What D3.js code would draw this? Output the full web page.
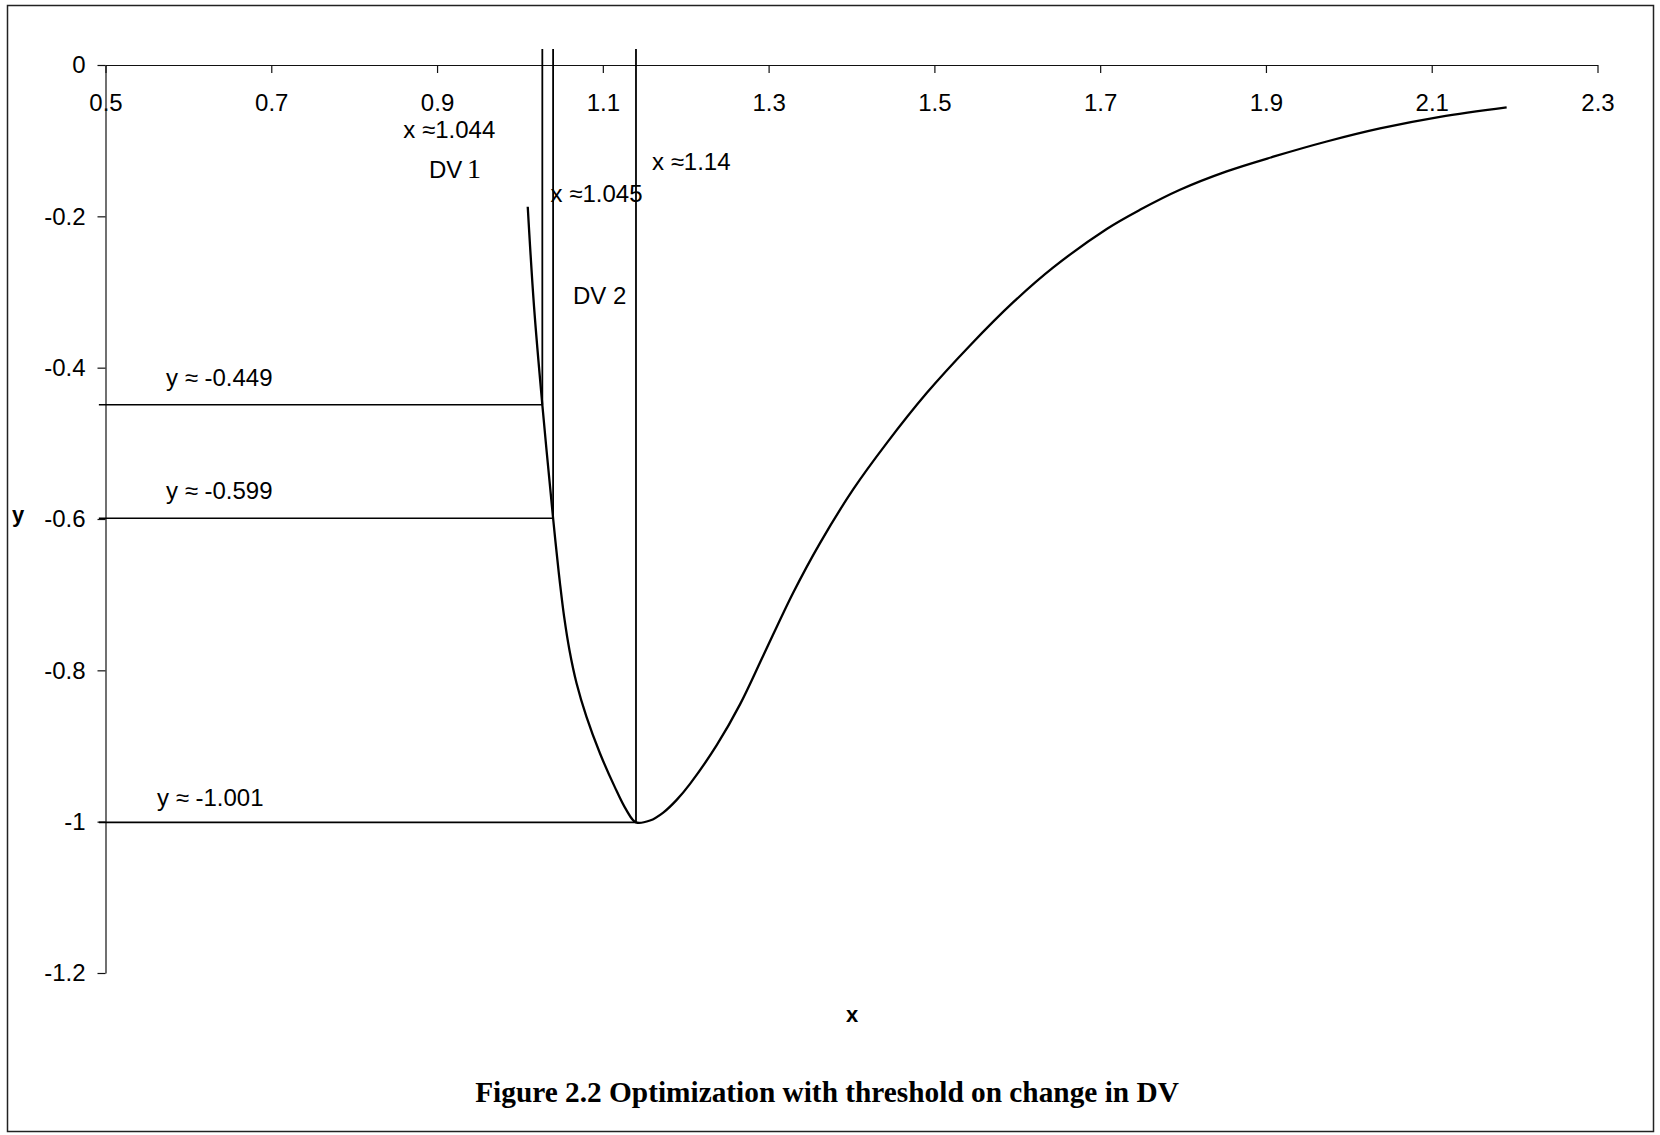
<!DOCTYPE html>
<html>
<head>
<meta charset="utf-8">
<script src="https://cdn.jsdelivr.net/npm/d3@7"></script>
<style>
  html, body { margin: 0; padding: 0; background: #fff; }
  svg { display: block; }
</style>
</head>
<body>
<svg id="chart" width="1660" height="1135"></svg>
<script>
// Axis ticks
const xTicks = [0.5, 0.7, 0.9, 1.1, 1.3, 1.5, 1.7, 1.9, 2.1, 2.3];
const yTicks = [0, -0.2, -0.4, -0.6, -0.8, -1, -1.2];

// Objective curve y(x)
const curveX = [1.0094, 1.0170, 1.027, 1.040, 1.0439, 1.0483, 1.0533, 1.0597, 1.0683, 1.0802, 1.0965, 1.1142, 1.1283, 1.14,
                1.1569, 1.1729, 1.1891, 1.2052, 1.2374, 1.2655, 1.2936, 1.3298, 1.3620, 1.4022, 1.4425, 1.4907, 1.5430,
                1.5952, 1.6435, 1.7079, 1.7480, 1.7963, 1.8526, 1.9089, 1.9733, 2.0376, 2.1100, 2.1904];
const curveY = [-0.1873, -0.3194, -0.449, -0.599, -0.6409, -0.6850, -0.7291, -0.7731, -0.8171, -0.8612, -0.9096, -0.9537, -0.9845, -1.001,
                -0.9985, -0.9880, -0.9712, -0.9500, -0.8989, -0.8450, -0.7804, -0.6971, -0.6318, -0.5606, -0.4997, -0.4336, -0.3707,
                -0.3135, -0.2675, -0.2167, -0.1914, -0.1649, -0.1406, -0.1212, -0.1011, -0.0838, -0.0685, -0.0560];

// Iterates of the optimisation: where each step stops (x) and the value reached (y)
const stepX = [1.027, 1.040, 1.14];
const stepY = [-0.449, -0.599, -1.001];
const stepXLabels = ["x \u22481.044", "x \u22481.045", "x \u22481.14"];
const stepYLabels = ["y \u2248 -0.449", "y \u2248 -0.599", "y \u2248 -1.001"];
const stepNames = ["DV", "1", "DV 2"];
const guideTop = 0.021;     // vertical guides rise slightly above the x axis
const guideLeft = 0.492;    // horizontal guides start just left of the y axis
const caption = "Figure 2.2 Optimization with threshold on change in DV";

const SANS = "Liberation Sans, Arial, sans-serif";
const SERIF = "Liberation Serif, Times New Roman, serif";

const svg = d3.select("#chart");
const W = 1660, H = 1135;

// frame
svg.append("rect")
  .attr("x", 7.5).attr("y", 5.5)
  .attr("width", W - 14).attr("height", H - 9)
  .attr("fill", "none").attr("stroke", "#222").attr("stroke-width", 1.5);

const x = d3.scaleLinear().domain([0.5, 2.3]).range([105.5, 1597.5]);
const y = d3.scaleLinear().domain([0, -1.2]).range([65, 973]);

const tickFont = 24;
const fmt = d => String(d);

// x axis along y = 0, labels beneath
const xAxis = svg.append("g")
  .attr("transform", `translate(0,${y(0)})`)
  .call(d3.axisBottom(x).tickValues(xTicks).tickFormat(fmt).tickSize(8).tickSizeOuter(0).tickPadding(21));
// y axis at x = 0.5
const yAxis = svg.append("g")
  .attr("transform", `translate(${x(0.5)},0)`)
  .call(d3.axisLeft(y).tickValues(yTicks).tickFormat(fmt).tickSize(8).tickSizeOuter(0).tickPadding(12));
[xAxis, yAxis].forEach(g => {
  g.attr("font-family", SANS).attr("font-size", tickFont);
  g.selectAll("text").attr("fill", "#000");
  g.selectAll("line, path").attr("stroke", "#111").attr("stroke-width", 1.2);
});

// axis titles
svg.append("text").attr("x", 12).attr("y", 522)
  .attr("font-family", SANS).attr("font-size", 22).attr("font-weight", "bold").text("y");
svg.append("text").attr("x", 852).attr("y", 1022).attr("text-anchor", "middle")
  .attr("font-family", SANS).attr("font-size", 22).attr("font-weight", "bold").text("x");

// guide lines for each step
const steps = stepX.map((v, i) => ({ x: v, y: stepY[i], xl: stepXLabels[i], yl: stepYLabels[i] }));
svg.append("g").selectAll("line").data(steps).join("line")
  .attr("x1", d => x(d.x)).attr("x2", d => x(d.x))
  .attr("y1", y(guideTop)).attr("y2", d => y(d.y))
  .attr("stroke", "#000").attr("stroke-width", 1.8);
svg.append("g").selectAll("line").data(steps).join("line")
  .attr("x1", x(guideLeft)).attr("x2", d => x(d.x))
  .attr("y1", d => y(d.y)).attr("y2", d => y(d.y))
  .attr("stroke", "#000").attr("stroke-width", 1.6);

// the curve
const line = d3.line().x(d => x(d[0])).y(d => y(d[1])).curve(d3.curveCatmullRom.alpha(0.5));
svg.append("path")
  .datum(curveX.map((v, i) => [v, curveY[i]]))
  .attr("d", line)
  .attr("fill", "none").attr("stroke", "#000").attr("stroke-width", 2.3)
  .attr("stroke-linejoin", "round");

// annotation text
const ann = svg.append("g").attr("font-family", SANS).attr("font-size", 24).attr("fill", "#000");
ann.append("text").attr("x", x(stepX[0]) - 93).attr("y", 138).attr("text-anchor", "middle").text(steps[0].xl);
ann.append("text").attr("x", x(stepX[1]) - 2.5).attr("y", 202).text(steps[1].xl);
ann.append("text").attr("x", x(stepX[2]) + 16).attr("y", 170).text(steps[2].xl);

ann.append("text").attr("x", 429).attr("y", 178).text(stepNames[0]);
ann.append("text").attr("x", 467).attr("y", 178)
  .attr("font-family", SERIF).attr("font-size", 28).text(stepNames[1]);
ann.append("text").attr("x", 573).attr("y", 304).text(stepNames[2]);

const yOff = [19, 19.5, 16.7];
steps.forEach((d, i) => {
  ann.append("text")
    .attr("x", i === 2 ? 157 : 166)
    .attr("y", y(d.y) - yOff[i])
    .text(d.yl);
});

// caption, sized to span its line
const cap = svg.append("text")
  .attr("x", 827).attr("y", 1102).attr("text-anchor", "middle")
  .attr("font-family", SERIF).attr("font-weight", "bold").attr("font-size", 27)
  .attr("fill", "#000")
  .text(caption);
const capLen = cap.node().getComputedTextLength();
cap.attr("font-size", (27 * 704 / capLen).toFixed(2));
</script>
</body>
</html>
